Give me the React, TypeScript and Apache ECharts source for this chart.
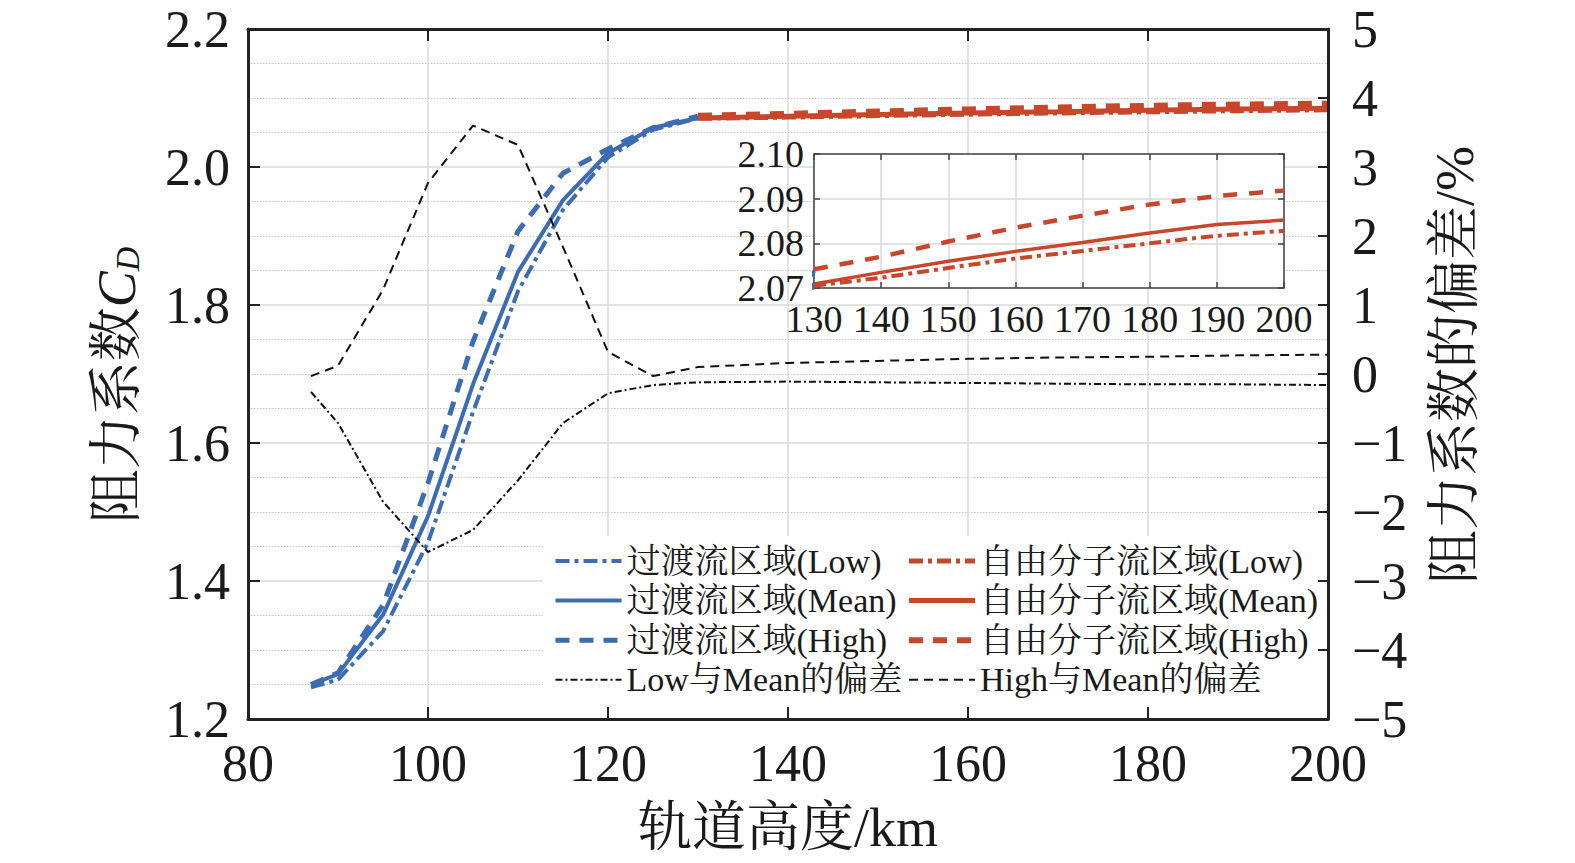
import React, { useEffect, useRef } from 'react';
import * as echarts from 'echarts';

// ---- data ----
const transitionAlt = [87, 90, 95, 100, 105, 110, 115, 120, 125, 130];
const transitionLow = [1.246, 1.257, 1.327, 1.456, 1.645, 1.82, 1.938, 2.014, 2.054, 2.0705];
const transitionMean = [1.25, 1.265, 1.351, 1.494, 1.685, 1.848, 1.952, 2.02, 2.057, 2.071];
const transitionHigh = [1.25, 1.267, 1.365, 1.542, 1.747, 1.907, 1.991, 2.026, 2.057, 2.0738];

const freeAlt = [130, 140, 150, 160, 170, 180, 190, 200];
const freeLow = [2.0705, 2.0723, 2.0745, 2.0766, 2.0783, 2.08, 2.0817, 2.0828];
const freeMean = [2.0709, 2.0735, 2.076, 2.0782, 2.0802, 2.0823, 2.0842, 2.0852];
const freeHigh = [2.0742, 2.077, 2.0804, 2.0835, 2.0862, 2.0887, 2.0906, 2.0918];

const devAlt = [87, 90, 95, 100, 105, 110, 115, 120, 125, 130, 140, 150, 160, 170, 180, 190, 200];
const devLow = [-0.26, -0.71, -1.85, -2.58, -2.26, -1.54, -0.71, -0.28, -0.16, -0.12, -0.11, -0.12, -0.13, -0.14, -0.15, -0.15, -0.16];
const devHigh = [-0.03, 0.12, 1.22, 2.77, 3.6, 3.32, 1.84, 0.32, -0.03, 0.1, 0.16, 0.19, 0.22, 0.24, 0.25, 0.27, 0.28];

const legendLeft = ['过渡流区域(Low)', '过渡流区域(Mean)', '过渡流区域(High)', 'Low与Mean的偏差'];
const legendRight = ['自由分子流区域(Low)', '自由分子流区域(Mean)', '自由分子流区域(High)', 'High与Mean的偏差'];

const FONT = "'Liberation Serif', 'Times New Roman', 'Noto Serif CJK SC', 'Noto Sans CJK SC', serif";
const TEXT = '#1a1a1a';
const BLUE = '#3b6cb4';
const RED = '#c8462a';
const BLACK = '#111111';
const DASHDOT = [14, 5, 4, 5];
const DASHED = [14, 10];

const zip = (xs: number[], ys: number[]) => xs.map((x, i) => [x, ys[i]]);

export default function App() {
  const ref = useRef<HTMLDivElement>(null);

  useEffect(() => {
    const chart = echarts.init(ref.current as HTMLDivElement, null, { renderer: 'svg' });
    const axisLine = { show: true, onZero: false, lineStyle: { color: '#222', width: 3 } };
    const insetLine = { show: true, onZero: false, lineStyle: { color: '#444', width: 1.5 } };
    const gridSplit = { show: true, lineStyle: { color: '#dadada', width: 1.5 } };
    const none = { show: false };

    const mainLine = (name: string, xs: number[], ys: number[], color: string, type: any, width: number, yIdx = 0) => ({
      name, type: 'line', xAxisIndex: 0, yAxisIndex: yIdx, data: zip(xs, ys), symbol: 'none',
      lineStyle: { color, width, type }, itemStyle: { color }, z: 3,
    });
    const insetLineSeries = (name: string, xs: number[], ys: number[], color: string, type: any, width: number) => ({
      name, type: 'line', xAxisIndex: 3, yAxisIndex: 3, data: zip(xs, ys), symbol: 'none',
      lineStyle: { color, width, type }, itemStyle: { color }, z: 4,
    });

    const legendCommon = {
      orient: 'vertical', top: 544, itemWidth: 66, itemHeight: 14, itemGap: 5.6, padding: 0, z: 6,
      selectedMode: false,
      itemStyle: { opacity: 0 },
      lineStyle: { width: 'inherit' },
      textStyle: { fontFamily: FONT, fontSize: 34, color: TEXT, lineHeight: 34 },
    };

    const option: any = {
      animation: false,
      backgroundColor: '#fff',
      grid: [
        { left: 248, top: 29, width: 1080, height: 690 },
        { left: 814, top: 154, width: 470, height: 134 },
      ],
      graphic: [
        { type: 'rect', shape: { x: 543, y: 536, width: 785, height: 182 }, style: { fill: '#fff' }, z: 1, silent: true },
        { type: 'rect', shape: { x: 814, y: 154, width: 470, height: 134 }, style: { fill: '#fff' }, z: 1, silent: true },
      ],
      legend: [
        { ...legendCommon, left: 553, data: legendLeft },
        { ...legendCommon, left: 906, data: legendRight },
      ],
      xAxis: [
        { type: 'value', gridIndex: 0, min: 80, max: 200, interval: 20, position: 'bottom',
          axisLine: { show: false, onZero: false }, axisTick: none, axisLabel: none, splitLine: gridSplit, z: 0 },
        { type: 'value', gridIndex: 0, min: 80, max: 200, interval: 20, position: 'bottom',
          axisLine, axisTick: { show: true, inside: true, length: 12, lineStyle: { color: '#222', width: 2 } },
          axisLabel: { show: true, fontSize: 52, fontFamily: FONT, color: TEXT, margin: 18 },
          splitLine: none, name: '轨道高度/km', nameLocation: 'middle', nameGap: 82,
          nameTextStyle: { fontSize: 54, fontFamily: FONT, color: TEXT }, z: 5 },
        { type: 'value', gridIndex: 0, min: 80, max: 200, interval: 20, position: 'top',
          axisLine, axisTick: { show: true, inside: true, length: 12, lineStyle: { color: '#222', width: 2 } },
          axisLabel: none, splitLine: none, z: 5 },
        { type: 'value', gridIndex: 1, min: 130, max: 200, interval: 10, position: 'bottom',
          axisLine: insetLine, axisTick: { show: true, inside: true, length: 6, lineStyle: { color: '#444', width: 1.5 } },
          axisLabel: { show: true, fontSize: 38, fontFamily: FONT, color: TEXT, margin: 12 },
          splitLine: gridSplit, z: 2 },
        { type: 'value', gridIndex: 1, min: 130, max: 200, interval: 10, position: 'top',
          axisLine: insetLine, axisTick: { show: true, inside: true, length: 6, lineStyle: { color: '#444', width: 1.5 } },
          axisLabel: none, splitLine: none, z: 2 },
      ],
      yAxis: [
        { type: 'value', gridIndex: 0, min: 1.2, max: 2.2, interval: 0.2, position: 'left',
          axisLine: { show: false, onZero: false }, axisTick: none, axisLabel: none, splitLine: gridSplit,
          minorTick: { show: false, splitNumber: 4 },
          minorSplitLine: { show: true, lineStyle: { color: '#c4c4c4', width: 1, type: [1.5, 1.5] } }, z: 0 },
        { type: 'value', gridIndex: 0, min: 1.2, max: 2.2, interval: 0.2, position: 'left',
          axisLine, axisTick: { show: true, inside: true, length: 12, lineStyle: { color: '#222', width: 2 } },
          axisLabel: { show: true, fontSize: 52, fontFamily: FONT, color: TEXT, margin: 18,
            formatter: (v: number) => v.toFixed(1) },
          splitLine: none,
          name: '阻力系数{c|C}{d|D}', nameLocation: 'middle', nameGap: 104,
          nameTextStyle: { fontSize: 54, fontFamily: FONT, color: TEXT, padding: [0, 22, 0, 0],
            rich: {
              c: { fontSize: 54, fontFamily: FONT, fontStyle: 'italic', color: TEXT },
              d: { fontSize: 34, fontFamily: FONT, fontStyle: 'italic', color: TEXT, verticalAlign: 'bottom', lineHeight: 34 },
            } },
          z: 5 },
        { type: 'value', gridIndex: 0, min: -5, max: 5, interval: 1, position: 'right',
          axisLine, axisTick: { show: true, inside: true, length: 10, lineStyle: { color: '#222', width: 2 } },
          axisLabel: { show: true, fontSize: 52, fontFamily: FONT, color: TEXT, margin: 24,
            formatter: (v: number) => (v < 0 ? '\u2212' + Math.abs(v) : String(v)) },
          splitLine: none,
          name: '阻力系数的偏差/%', nameLocation: 'middle', nameRotate: 90, nameGap: 100,
          nameTextStyle: { fontSize: 54, fontFamily: FONT, color: TEXT, padding: [0, 0, 0, 18] },
          z: 5 },
        { type: 'value', gridIndex: 1, min: 2.07, max: 2.1, interval: 0.01, position: 'left',
          axisLine: insetLine, axisTick: { show: true, inside: true, length: 6, lineStyle: { color: '#444', width: 1.5 } },
          axisLabel: { show: true, fontSize: 38, fontFamily: FONT, color: TEXT, margin: 10,
            formatter: (v: number) => v.toFixed(2) },
          splitLine: gridSplit, z: 2 },
        { type: 'value', gridIndex: 1, min: 2.07, max: 2.1, interval: 0.01, position: 'right',
          axisLine: insetLine, axisTick: { show: true, inside: true, length: 6, lineStyle: { color: '#444', width: 1.5 } },
          axisLabel: none, splitLine: none, z: 2 },
      ],
      series: [
        mainLine('过渡流区域(Low)', transitionAlt, transitionLow, BLUE, DASHDOT, 4),
        mainLine('过渡流区域(Mean)', transitionAlt, transitionMean, BLUE, 'solid', 4),
        mainLine('过渡流区域(High)', transitionAlt, transitionHigh, BLUE, DASHED, 5),
        mainLine('自由分子流区域(Low)', freeAlt, freeLow, RED, DASHDOT, 5),
        mainLine('自由分子流区域(Mean)', freeAlt, freeMean, RED, 'solid', 5),
        mainLine('自由分子流区域(High)', freeAlt, freeHigh, RED, DASHED, 6),
        mainLine('Low与Mean的偏差', devAlt, devLow, BLACK, [7, 3, 2, 3], 2, 2),
        mainLine('High与Mean的偏差', devAlt, devHigh, BLACK, [9, 6], 2, 2),
        insetLineSeries('过渡流区域(Low)', transitionAlt, transitionLow, BLUE, DASHDOT, 3.5),
        insetLineSeries('过渡流区域(Mean)', transitionAlt, transitionMean, BLUE, 'solid', 3.5),
        insetLineSeries('过渡流区域(High)', transitionAlt, transitionHigh, BLUE, DASHED, 4),
        insetLineSeries('自由分子流区域(Low)', freeAlt, freeLow, RED, [12, 5, 4, 5], 4),
        insetLineSeries('自由分子流区域(Mean)', freeAlt, freeMean, RED, 'solid', 3.5),
        insetLineSeries('自由分子流区域(High)', freeAlt, freeHigh, RED, [14, 12], 4.5),
      ],
    };

    chart.setOption(option);
    return () => chart.dispose();
  }, []);

  return (
    <div
      ref={ref}
      style={{ position: 'absolute', left: 0, top: 0, width: 1575, height: 863, background: '#fff' }}
    />
  );
}
